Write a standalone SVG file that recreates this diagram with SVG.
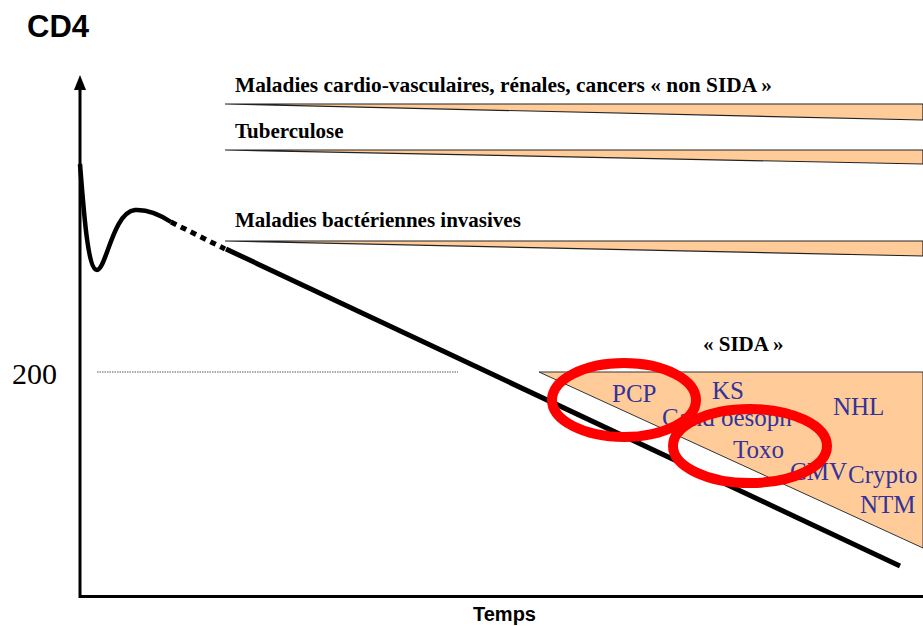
<svg xmlns="http://www.w3.org/2000/svg" width="923" height="626" viewBox="0 0 923 626">
<style>
.title{font-family:"Liberation Serif","Times New Roman",serif;font-weight:bold;font-size:21px;fill:#000}
.lbl{font-family:"Liberation Serif","Times New Roman",serif;font-size:25px;fill:#33339a}
.sans{font-family:"Liberation Sans",Arial,sans-serif;font-weight:bold;fill:#000}
.wedge{fill:#ffcc99;stroke:#222;stroke-width:1.2;stroke-linejoin:miter}
.ring{fill:none;stroke:#ff0000;stroke-width:10}
</style>
<rect width="923" height="626" fill="#fff"/>

<g id="axes">
<line x1="80" y1="596.5" x2="923" y2="596.5" stroke="#000" stroke-width="3"/>
<line x1="80" y1="598" x2="80" y2="86" stroke="#000" stroke-width="3"/>
<path d="M80,75 L86,90 L74,90 Z" fill="#000"/>
<text class="sans" x="27" y="37" font-size="31">CD4</text>
<text class="sans" x="473" y="621" font-size="20">Temps</text>
<text x="12" y="384" font-family="'Liberation Serif','Times New Roman',serif" font-size="30" fill="#000">200</text>
<line x1="97" y1="372" x2="458" y2="372" stroke="#555" stroke-width="1" stroke-dasharray="1.5 1"/>
</g>

<g id="wedge-cardio">
<polygon class="wedge" points="225,104 923,104 923,120"/>
<text class="title" x="235" y="92" textLength="537" lengthAdjust="spacingAndGlyphs">Maladies cardio-vasculaires, rénales, cancers « non SIDA »</text>
</g>
<g id="wedge-tb">
<polygon class="wedge" points="225,150 923,150 923,164"/>
<text class="title" x="235" y="138">Tuberculose</text>
</g>
<g id="wedge-bact">
<polygon class="wedge" points="225,241 923,241 923,256"/>
<text class="title" x="235" y="227">Maladies bactériennes invasives</text>
</g>

<g id="cd4-curve" fill="none" stroke="#000" stroke-linecap="butt">
<path d="M80,164 C84,215 88,270 97,270 C106,270 113,212 135,210 C150,209 162,216 171,222" stroke-width="4.5"/>
<line x1="171" y1="222" x2="225" y2="249" stroke-width="5" stroke-dasharray="6 5"/>
<line x1="226" y1="249" x2="900" y2="566" stroke-width="5"/>
</g>

<g id="sida">
<polygon points="539,372 923,372 923,548" fill="#ffcc99" stroke="#333" stroke-width="1"/>
<text class="title" x="703" y="351">« SIDA »</text>
<text class="lbl" x="612" y="402">PCP</text>
<text class="lbl" x="712" y="399">KS</text>
<text class="lbl" x="833" y="415">NHL</text>
<text class="lbl" x="662" y="426">Cand oesoph</text>
<text class="lbl" x="733" y="458">Toxo</text>
<text class="lbl" x="790" y="480">CMV</text>
<text class="lbl" x="848" y="483">Crypto</text>
<text class="lbl" x="860" y="513">NTM</text>
</g>

<g id="highlights">
<ellipse class="ring" cx="624" cy="400" rx="72" ry="37"/>
<ellipse class="ring" cx="750" cy="446" rx="77" ry="37"/>
</g>
</svg>
